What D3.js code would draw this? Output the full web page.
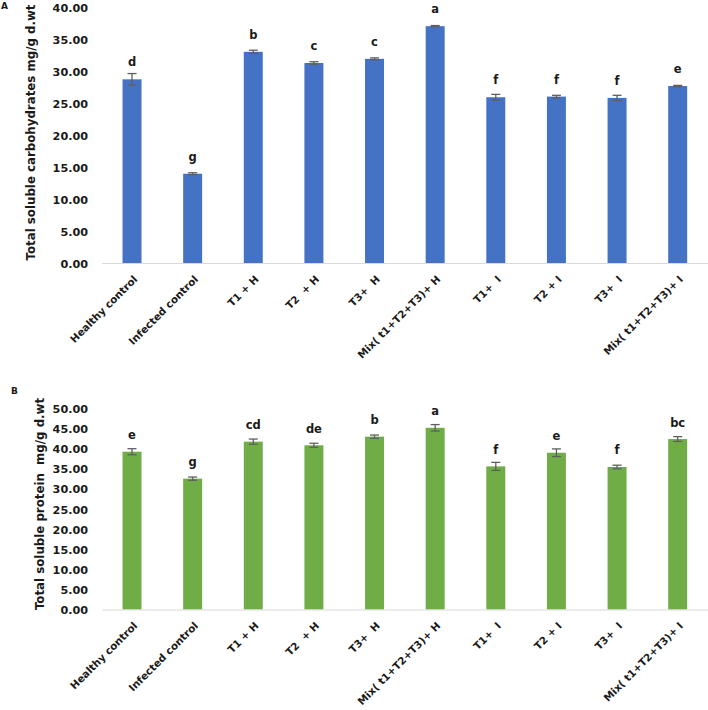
<!DOCTYPE html>
<html>
<head>
<meta charset="utf-8">
<script src="https://cdn.jsdelivr.net/npm/d3@7"></script>
<style>
  html, body { margin: 0; padding: 0; background: #fff; }
  svg { display: block; }
  text { font-family: "DejaVu Sans", sans-serif; font-weight: bold; fill: #1a1a1a; }
</style>
</head>
<body>
<svg id="chart" width="708" height="710"></svg>
<script>
// ---- data ----
const categories = ["Healthy control", "Infected control", "T1 + H", "T2  + H", "T3+  H",
  "Mix( t1+T2+T3)+ H", "T1+  I", "T2 + I", "T3+  I", "Mix( t1+T2+T3)+ I"];

const carbValues  = [28.7, 13.95, 33.0, 31.25, 31.9, 37.0, 25.9, 26.0, 25.8, 27.65];
const carbErrors  = [0.9, 0.15, 0.25, 0.2, 0.15, 0.1, 0.45, 0.2, 0.4, 0.1];
const carbLetters = ["d", "g", "b", "c", "c", "a", "f", "f", "f", "e"];
const carbTicks   = [0, 5, 10, 15, 20, 25, 30, 35, 40];

const protValues  = [39.25, 32.55, 41.75, 40.85, 43.0, 45.2, 35.6, 39.0, 35.45, 42.4];
const protErrors  = [0.75, 0.4, 0.65, 0.5, 0.4, 0.8, 1.0, 0.95, 0.45, 0.6];
const protLetters = ["e", "g", "cd", "de", "b", "a", "f", "e", "f", "bc"];
const protTicks   = [0, 5, 10, 15, 20, 25, 30, 35, 40, 45, 50];

const svg = d3.select("#chart");

function panel(opts) {
  const g = svg.append("g");
  const x = d3.scaleBand().domain(categories).range([101.7, 708])
    .paddingInner(0.687).paddingOuter(0.3435);
  const y = d3.scaleLinear().domain(opts.domain).range([opts.y0, opts.y1]);

  // y axis (labels only)
  const ya = g.append("g").attr("transform", "translate(88,0)")
    .call(d3.axisLeft(y).tickValues(opts.ticks).tickSize(0).tickPadding(0).tickFormat(d3.format(".2f")));
  ya.select(".domain").remove();
  ya.selectAll("text").attr("font-size", 11.2).attr("font-family", "DejaVu Sans").attr("font-weight", "bold")
    .attr("fill", "#1a1a1a").attr("dy", "0.36em");

  // bars
  const data = categories.map((c, i) => ({c, v: opts.values[i], e: opts.errors[i], l: opts.letters[i]}));
  g.selectAll("rect.bar").data(data).join("rect")
    .attr("class", "bar")
    .attr("x", d => x(d.c)).attr("width", x.bandwidth())
    .attr("y", d => y(d.v)).attr("height", d => y(0) - y(d.v))
    .attr("fill", opts.color);

  // x axis
  const xa = g.append("g").attr("transform", `translate(0,${y(0)})`)
    .call(d3.axisBottom(x).tickSize(0).tickPadding(0));
  xa.select(".domain").attr("stroke", "#d9d9d9").attr("stroke-width", 1.2);
  xa.selectAll("text")
    .attr("font-size", 10.3).attr("font-family", "DejaVu Sans").attr("font-weight", "bold")
    .attr("fill", "#1a1a1a")
    .attr("text-anchor", "end").attr("dy", 0).attr("y", 0)
    .style("white-space", "pre")
    .attr("transform", "translate(6,17) rotate(-45)");

  // error bars
  const eb = g.selectAll("g.err").data(data).join("g").attr("class", "err")
    .attr("stroke", "#5f5f5f").attr("stroke-width", 1.3);
  eb.append("line")
    .attr("x1", d => x(d.c) + x.bandwidth() / 2).attr("x2", d => x(d.c) + x.bandwidth() / 2)
    .attr("y1", d => y(d.v + d.e)).attr("y2", d => y(d.v - d.e));
  eb.append("line")
    .attr("x1", d => x(d.c) + x.bandwidth() / 2 - 4.5).attr("x2", d => x(d.c) + x.bandwidth() / 2 + 4.5)
    .attr("y1", d => y(d.v + d.e)).attr("y2", d => y(d.v + d.e));
  eb.append("line")
    .attr("x1", d => x(d.c) + x.bandwidth() / 2 - 4.5).attr("x2", d => x(d.c) + x.bandwidth() / 2 + 4.5)
    .attr("y1", d => y(d.v - d.e)).attr("y2", d => y(d.v - d.e));

  // significance letters
  g.selectAll("text.sig").data(data).join("text")
    .attr("class", "sig")
    .attr("x", d => x(d.c) + x.bandwidth() / 2)
    .attr("y", d => y(d.v) - opts.letterGap)
    .attr("text-anchor", "middle").attr("font-size", 11.5)
    .text(d => d.l);

  // y title
  g.append("text")
    .attr("transform", `translate(${opts.titleX},${opts.titleY}) rotate(-90)`)
    .attr("text-anchor", "middle").attr("font-size", 11.8)
    .style("white-space", "pre")
    .text(opts.title);

  // panel letter
  g.append("text").attr("x", opts.tagX).attr("y", opts.tagY).attr("font-size", 9).text(opts.tag);
}

panel({domain: [0, 40], y0: 263, y1: 7, ticks: carbTicks, values: carbValues, errors: carbErrors,
  letters: carbLetters, color: "#4472C4", letterGap: 13,
  title: "Total soluble carbohydrates mg/g d.wt", titleX: 35, titleY: 132.5,
  tag: "A", tagX: 1, tagY: 9});

panel({domain: [0, 50], y0: 609.5, y1: 408.5, ticks: protTicks, values: protValues, errors: protErrors,
  letters: protLetters, color: "#70AD47", letterGap: 12.5,
  title: "Total soluble protein  mg/g d.wt", titleX: 43.5, titleY: 504,
  tag: "B", tagX: 11, tagY: 394});
</script>
</body>
</html>
